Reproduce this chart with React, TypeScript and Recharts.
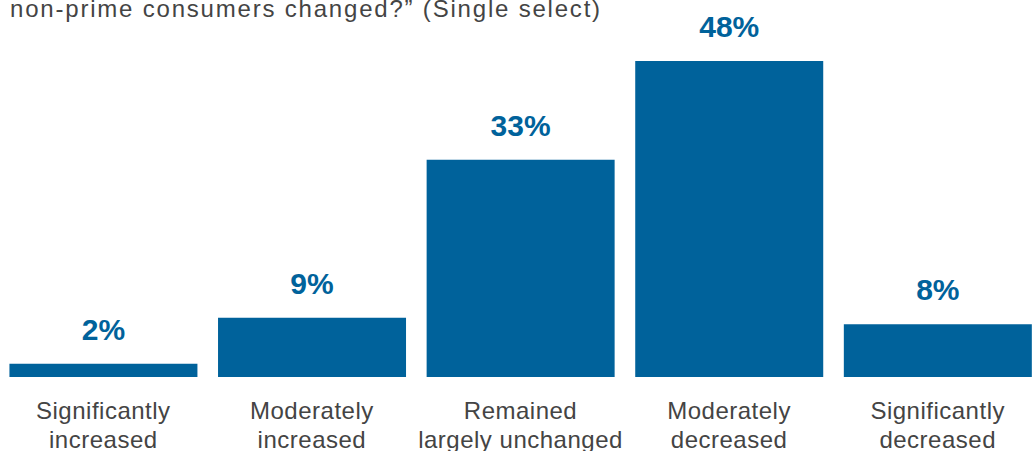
import { BarChart, Bar, XAxis, YAxis, LabelList } from "recharts";

const categories = [
  "Significantly\nincreased",
  "Moderately\nincreased",
  "Remained\nlargely unchanged",
  "Moderately\ndecreased",
  "Significantly\ndecreased",
];
const shares = [2, 9, 33, 48, 8];

const data = categories.map((name, i) => ({ name, share: shares[i] }));

const BLUE = "#00629b";
const GREY = "#444444";
const FONT = "'Liberation Sans', Arial, sans-serif";

// two-line category label under each bar
function CategoryTick(props: any) {
  const { x, y, payload } = props;
  const lines = String(payload.value).split("\n");
  return (
    <text
      x={x}
      y={y}
      textAnchor="middle"
      fill={GREY}
      fontSize={24}
      fontFamily={FONT}
      letterSpacing={0.5}
    >
      {lines.map((line: string, i: number) => (
        <tspan key={i} x={x} dy={i === 0 ? 34 : 29}>
          {line}
        </tspan>
      ))}
    </text>
  );
}

export default function App() {
  return (
    <div
      style={{
        position: "absolute",
        left: 0,
        top: 0,
        width: 1033,
        height: 451,
        overflow: "hidden",
        background: "#fff",
      }}
    >
      <div
        style={{
          position: "absolute",
          left: 10,
          top: -3,
          fontFamily: FONT,
          fontSize: 24,
          lineHeight: "24px",
          letterSpacing: 1.8,
          color: GREY,
          whiteSpace: "nowrap",
        }}
      >
        non-prime consumers changed?” (Single select)
      </div>
      <div style={{ position: "absolute", left: -1, top: 0 }}>
        <BarChart
          width={1043}
          height={451}
          data={data}
          margin={{ top: 61, right: 0, bottom: 0, left: 0 }}
          barCategoryGap="5%"
        >
          <XAxis
            dataKey="name"
            axisLine={false}
            tickLine={false}
            height={74}
            interval={0}
            tick={<CategoryTick />}
          />
          <YAxis hide domain={[0, 48]} />
          <Bar dataKey="share" fill={BLUE} isAnimationActive={false}>
            <LabelList
              dataKey="share"
              position="top"
              offset={24}
              formatter={(v: any) => `${v}%`}
              fill={BLUE}
              fontSize={30}
              fontWeight="bold"
              fontFamily={FONT}
            />
          </Bar>
        </BarChart>
      </div>
    </div>
  );
}
